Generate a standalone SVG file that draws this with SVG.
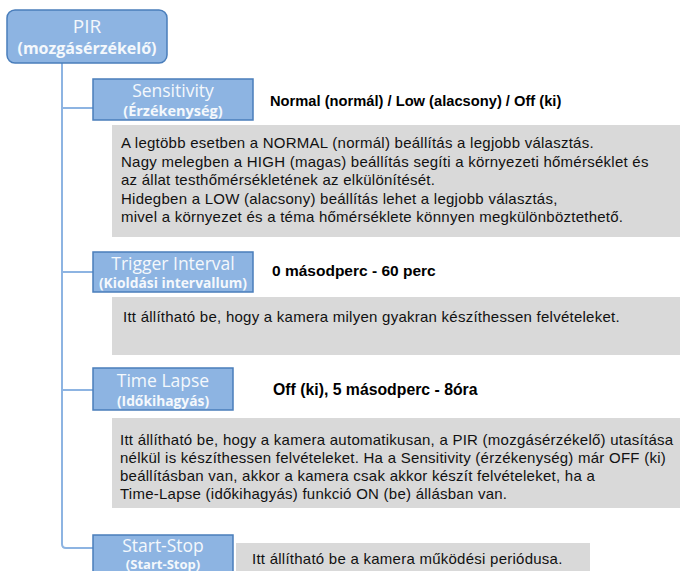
<svg xmlns="http://www.w3.org/2000/svg" width="680" height="571" viewBox="0 0 680 571">
<style>
.nb{fill:#8DB4E2;stroke:#4A7EBB;stroke-width:1.5}
.t1{font-family:"Open Sans","Liberation Sans",sans-serif;font-size:17.5px;fill:#F4F8FC;text-anchor:middle}
.t2{font-family:"Open Sans","Liberation Sans",sans-serif;font-size:13.8px;font-weight:bold;fill:#F4F8FC;text-anchor:middle}
.lb{font-family:"Liberation Sans",Arial,sans-serif;font-size:15.5px;font-weight:bold;fill:#000}
.gb{fill:#D9D9D9}
.p{font-family:"Liberation Sans",Arial,sans-serif;font-size:15px;letter-spacing:0.25px;fill:#111}
.cn{fill:none;stroke:#8DB4E2;stroke-width:2}
</style>
<g id="connectors">
<path class="cn" d="M62 63 V544 Q62 548 66 548 H93"/>
<path class="cn" d="M62 108 H93"/>
<path class="cn" d="M62 272 H93"/>
<path class="cn" d="M62 390 H93"/>
</g>
<g id="pir">
<rect class="nb" x="7" y="10" width="160" height="53" rx="8"/>
<text class="t1" x="87" y="33" style="font-size:19px">PIR</text>
<text class="t2" x="87" y="54" style="font-size:16px">(mozgásérzékelő)</text>
</g>
<g id="sensitivity">
<rect class="nb" x="93" y="79" width="160" height="41"/>
<text class="t1" x="173" y="97">Sensitivity</text>
<text class="t2" x="173" y="116" style="font-size:14.5px">(Érzékenység)</text>
<text class="lb" x="270" y="106" style="font-size:14.7px">Normal (normál) / Low (alacsony) / Off (ki)</text>
<rect class="gb" x="112" y="125" width="568" height="112"/>
<text class="p" x="121" y="148">A legtöbb esetben a NORMAL (normál) beállítás a legjobb választás.</text>
<text class="p" x="121" y="166.5">Nagy melegben a HIGH (magas) beállítás segíti a környezeti hőmérséklet és</text>
<text class="p" x="121" y="185">az állat testhőmérsékletének az elkülönítését.</text>
<text class="p" x="121" y="203.5">Hidegben a LOW (alacsony) beállítás lehet a legjobb választás,</text>
<text class="p" x="121" y="222">mivel a környezet és a téma hőmérséklete könnyen megkülönböztethető.</text>
</g>
<g id="trigger">
<rect class="nb" x="93" y="252" width="160" height="40"/>
<text class="t1" x="173" y="270">Trigger Interval</text>
<text class="t2" x="173" y="288">(Kioldási intervallum)</text>
<text class="lb" x="272" y="276">0 másodperc - 60 perc</text>
<rect class="gb" x="112" y="297" width="568" height="58"/>
<text class="p" x="123" y="322">Itt állítható be, hogy a kamera milyen gyakran készíthessen felvételeket.</text>
</g>
<g id="timelapse">
<rect class="nb" x="93" y="368" width="140" height="42"/>
<text class="t1" x="163" y="387">Time Lapse</text>
<text class="t2" x="163" y="406">(Időkihagyás)</text>
<text class="lb" x="273" y="395" style="font-size:15.8px">Off (ki), 5 másodperc - 8óra</text>
<rect class="gb" x="112" y="418" width="568" height="90"/>
<text class="p" x="120" y="445">Itt állítható be, hogy a kamera automatikusan, a PIR (mozgásérzékelő) utasítása</text>
<text class="p" x="120" y="463">nélkül is készíthessen felvételeket. Ha a Sensitivity (érzékenység) már OFF (ki)</text>
<text class="p" x="120" y="481">beállításban van, akkor a kamera csak akkor készít felvételeket, ha a</text>
<text class="p" x="120" y="499">Time-Lapse (időkihagyás) funkció ON (be) állásban van.</text>
</g>
<g id="startstop">
<rect class="nb" x="93" y="535" width="140" height="40"/>
<text class="t1" x="163" y="552">Start-Stop</text>
<text class="t2" x="163" y="569" style="font-size:13px">(Start-Stop)</text>
<rect class="gb" x="236" y="543" width="354" height="30"/>
<text class="p" x="252" y="564">Itt állítható be a kamera működési periódusa.</text>
</g>
</svg>
